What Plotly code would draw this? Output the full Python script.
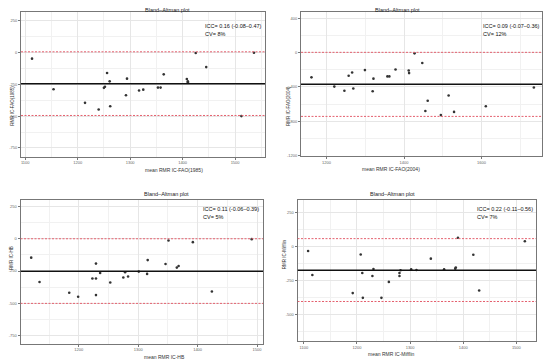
import plotly.graph_objects as go

# ---------------- data ----------------
p1_x = [1113, 1154, 1214, 1240, 1250, 1252, 1256, 1261, 1262, 1292, 1294, 1317, 1325,
        1353, 1358, 1364, 1408, 1410, 1410, 1425, 1445, 1512, 1536]
p1_y = [-49, -289, -396, -448, -278, -270, -162, -227, -422, -336, -206, -299, -292,
        -276, -276, -172, -208, -234, -227, -5, -115, -500, -3]
p1_mean, p1_lo, p1_hi = -245, -495, 5

p2_x = [1161, 1220, 1246, 1257, 1266, 1269, 1299, 1319, 1321, 1357, 1362, 1378, 1412,
        1413, 1427, 1447, 1455, 1461, 1495, 1515, 1529, 1611, 1735]
p2_y = [-288, -396, -445, -269, -231, -419, -203, -450, -303, -277, -277, -196, -208,
        -238, -7, -119, -681, -561, -730, -500, -692, -626, -407]
p2_mean, p2_lo, p2_hi = -370, -745, 5

p3_x = [1120, 1134, 1184, 1199, 1223, 1229, 1229, 1229, 1236, 1253, 1275, 1278, 1283,
        1301, 1315, 1316, 1346, 1351, 1365, 1368, 1392, 1424, 1491]
p3_y = [-146, -334, -418, -449, -308, -192, -308, -436, -265, -338, -300, -259, -292,
        -254, -272, -165, -195, -13, -223, -211, -26, -408, -3]
p3_mean, p3_lo, p3_hi = -252, -500, 0

p4_x = [1108, 1116, 1192, 1207, 1210, 1211, 1229, 1231, 1246, 1260, 1280, 1280, 1282,
        1302, 1312, 1339, 1364, 1385, 1386, 1390, 1419, 1430, 1516]
p4_y = [-32, -209, -343, -57, -194, -378, -216, -165, -378, -260, -194, -216, -174,
        -167, -172, -88, -167, -162, -154, 66, -59, -324, 41]
p4_mean, p4_lo, p4_hi = -173, -405, 60

titles = ["Bland\u2013Altman plot"] * 4
x_labels = ["mean RMR IC-FAO(1985)", "mean RMR IC-FAO(2004)", "mean RMR IC-HB", "mean RMR IC-Mifflin"]
y_labels = ["RMR IC-FAO(1985)", "RMR IC-FAO(2004)", "RMR IC-HB", "RMR IC-Mifflin"]
icc_text = ["ICC= 0.16 (-0.08\u20130.47)", "ICC= 0.09 (-0.07\u20130.36)",
            "ICC= 0.11 (-0.06\u20130.39)", "ICC= 0.22 (-0.11\u20130.56)"]
cv_text = ["CV= 8%", "CV= 12%", "CV= 5%", "CV= 7%"]

x_ticks = [[1100, 1200, 1300, 1400, 1500], [1200, 1400, 1600],
           [1200, 1300, 1400, 1500], [1100, 1200, 1300, 1400, 1500]]
y_ticks = [[250, 0, -250, -500, -750], [400, 0, -400, -800, -1200],
           [250, 0, -250, -500, -750], [250, 0, -250, -500]]

# ---------------- layout geometry ----------------
W, H = 550, 360
# plot areas in pixels: (left, right, top, bottom)
boxes = [(21, 265, 12, 157.5), (301, 542, 12, 157),
         (20.5, 263, 201.5, 345.5), (297.5, 536, 201.5, 343)]
x_ranges = [[1092, 1557], [1134, 1756], [1102, 1510], [1088, 1537]]
y_ranges = [[-818, 318], [-1210, 478], [-811, 297], [-698, 343]]
x_minor = [50, 100, 50, 50]
y_minor = [125, 200, 125, 125]

series = [(p1_x, p1_y, p1_mean, p1_lo, p1_hi), (p2_x, p2_y, p2_mean, p2_lo, p2_hi),
          (p3_x, p3_y, p3_mean, p3_lo, p3_hi), (p4_x, p4_y, p4_mean, p4_lo, p4_hi)]

fig = go.Figure()
annotations = []
shapes = []
font = "Liberation Sans, Arial, sans-serif"

for i, (xs, ys, m, lo, hi) in enumerate(series):
    k = "" if i == 0 else str(i + 1)
    xa, ya = "x" + k, "y" + k
    l, r, t, b = boxes[i]
    fig.add_trace(go.Scatter(x=xs, y=ys, mode="markers", xaxis=xa, yaxis=ya,
                             marker=dict(size=2.6, color="#333333"), showlegend=False,
                             hoverinfo="skip"))
    x0, x1 = x_ranges[i]
    for val, col, dash, w in [(hi, "#e4606e", "2px,1.5px", 1), (lo, "#e4606e", "2px,1.5px", 1),
                              (m, "#111111", "solid", 1.5)]:
        shapes.append(dict(type="line", xref=xa, yref=ya, x0=x0, x1=x1, y0=val, y1=val,
                           line=dict(color=col, width=w, dash=dash), layer="above"))
    axis_common = dict(showline=True, linecolor="#777777", linewidth=1, mirror=True,
                       ticks="outside", ticklen=2, tickcolor="#777777", tickwidth=0.6,
                       showgrid=True, gridcolor="#e6e6e6", gridwidth=0.7, zeroline=False,
                       tickfont=dict(size=4, color="#666666", family=font))
    fig.update_layout(**{
        ("xaxis" + k): dict(domain=[l / W, r / W], range=x_ranges[i], anchor=ya,
                            tickmode="array", tickvals=x_ticks[i],
                            ticktext=[str(v) for v in x_ticks[i]],
                            ticklabelstandoff=0,
                            minor=dict(tickmode="linear", tick0=0, dtick=x_minor[i],
                                       showgrid=True, gridcolor="#f1f1f1", gridwidth=0.5,
                                       ticks=""),
                            **axis_common),
        ("yaxis" + k): dict(domain=[1 - b / H, 1 - t / H], range=y_ranges[i], anchor=xa,
                            tickmode="array", tickvals=y_ticks[i],
                            ticktext=[str(v) for v in y_ticks[i]],
                            minor=dict(tickmode="linear", tick0=0, dtick=y_minor[i],
                                       showgrid=True, gridcolor="#f1f1f1", gridwidth=0.5,
                                       ticks=""),
                            **axis_common),
    })
    cx = (l + r) / 2 / W
    annotations.append(dict(text=titles[i], x=cx, y=1 - (t - 6.5) / H, xref="paper", yref="paper",
                            showarrow=False, font=dict(size=5.5, color="#222222", family=font)))
    annotations.append(dict(text=x_labels[i], x=cx, y=1 - (b + 8) / H, xref="paper", yref="paper",
                            yanchor="top", showarrow=False,
                            font=dict(size=5, color="#333333", family=font)))
    annotations.append(dict(text=y_labels[i], x=(l - 13) / W, y=1 - (t + b) / 2 / H,
                            xref="paper", yref="paper", textangle=-90, showarrow=False,
                            font=dict(size=4.5, color="#333333", family=font)))
    annotations.append(dict(text=icc_text[i], x=(l + 0.745 * (r - l)) / W, y=1 - (t + 9) / H,
                            xref="paper", yref="paper", xanchor="left", showarrow=False,
                            font=dict(size=5.5, color="#111111", family=font)))
    annotations.append(dict(text=cv_text[i], x=(l + 0.745 * (r - l)) / W, y=1 - (t + 17) / H,
                            xref="paper", yref="paper", xanchor="left", showarrow=False,
                            font=dict(size=5.5, color="#111111", family=font)))

fig.update_layout(width=W, height=H, margin=dict(l=0, r=0, t=0, b=0),
                  paper_bgcolor="white", plot_bgcolor="white",
                  shapes=shapes, annotations=annotations, font=dict(family=font))
fig.write_html("out.html", config={"displayModeBar": False},
               post_script="document.body.style.margin='0px';document.body.style.overflow='hidden';")
